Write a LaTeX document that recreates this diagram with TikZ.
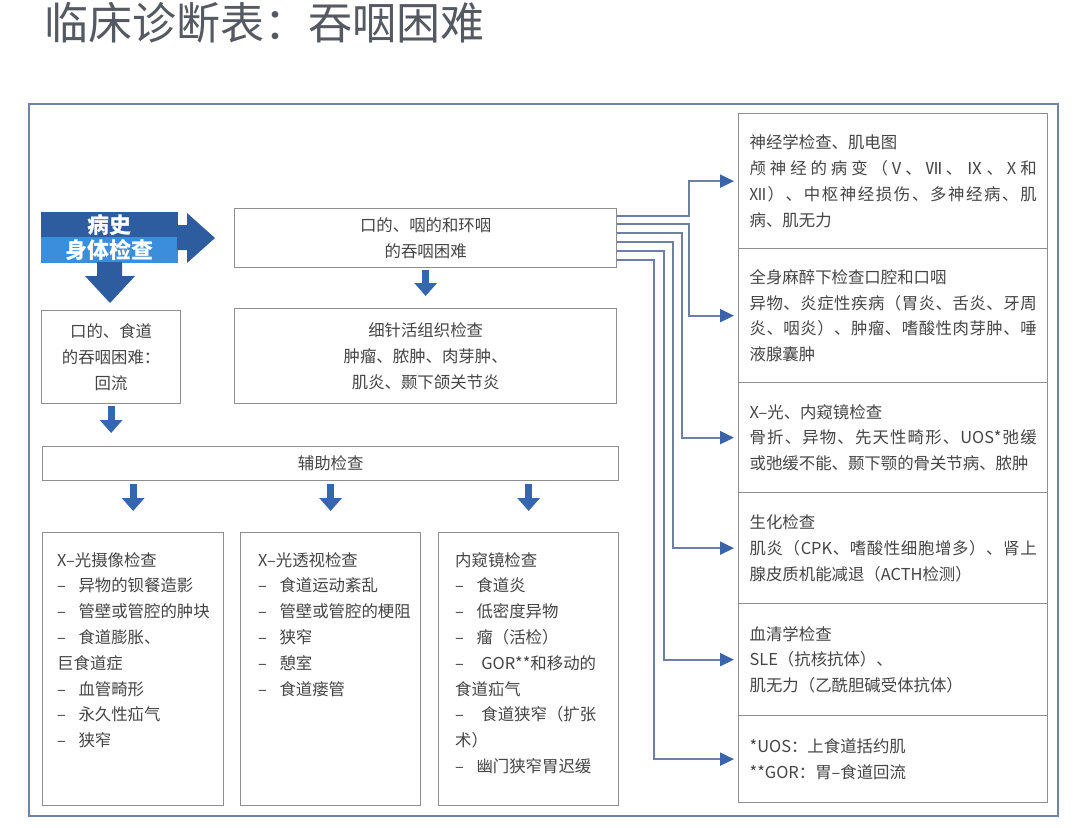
\documentclass[tikz,border=0pt]{standalone}
\usepackage{fontspec}
\setmainfont{Noto Sans CJK SC}
\usetikzlibrary{arrows.meta}
\definecolor{darkblue}{HTML}{2D5C9F}
\definecolor{lightblue}{HTML}{3B8EDB}
\definecolor{arrowblue}{HTML}{3566B0}
\definecolor{connline}{HTML}{6E7EA6}
\definecolor{tipblue}{HTML}{3A63AA}
\definecolor{boxgray}{HTML}{8E8E8E}
\definecolor{framecol}{HTML}{7182A8}
\definecolor{txtgray}{HTML}{454545}
\definecolor{titlegray}{HTML}{555A62}
\def\jstendm{\jstend}
\def\jst#1{\def\jsttmp{#1}\ifx\jsttmp\jstendm\else#1\hfil\expandafter\jst\fi}
\newcommand\jline[1]{\leavevmode\hbox to 287pt{\jst#1\jstend\unskip}}
\newcommand\bul{\makebox[1.3em][l]{–}}
\newcommand\bodyfont{\fontsize{16.4}{25.8}\selectfont}
\begin{document}
\begin{tikzpicture}[x=1pt,y=-1pt,
  box/.style={draw=boxgray, line width=1.3pt, fill=white, rectangle, inner sep=0pt, anchor=north west},
  ctext/.style={box, font=\bodyfont, text=txtgray, align=center},
  ltext/.style={font=\bodyfont, text=txtgray, align=left, inner sep=0pt, anchor=north west},
  rbox/.style={box, font=\bodyfont, text=txtgray, align=left, text width=287pt, inner xsep=10pt, minimum width=309pt},
  block/.style={inner sep=0pt, anchor=north west, minimum width=137pt, text=white, font=\fontsize{22}{24}\selectfont\bfseries},
  sarrow/.style={draw=arrowblue, line width=7pt, -{Triangle[length=13pt,width=22pt]}},
  conn/.style={draw=connline, line width=2pt, -{Triangle[length=14pt,width=13pt,color=tipblue,fill=tipblue]}, shorten >=4pt}
]
\useasboundingbox (0,0) rectangle (1080,828);
\fill[white] (0,0) rectangle (1080,828);

\node[anchor=west, inner sep=0pt, text=titlegray, font=\fontsize{44}{46}\selectfont] (title) at (44,23) {临床诊断表：吞咽困难};

\node[draw=framecol, line width=2pt, anchor=north west, minimum width=1029pt, minimum height=712pt, inner sep=0pt] (frame) at (28,103) {};

% blue blocks
\node[block, fill=darkblue, minimum height=25pt] (hist) at (41,212) {病史};
\node[block, fill=lightblue, minimum height=26pt] (phys) at (41,237) {身体检查};
\fill[darkblue] (177,225) -- (187,225) -- (187,213) -- (215,238) -- (187,263) -- (187,250) -- (177,250) -- cycle;
\fill[darkblue] (97,262) -- (122,262) -- (122,276) -- (135,276) -- (110,303) -- (85,276) -- (97,276) -- cycle;

% main boxes
\node[ctext, minimum width=382pt, minimum height=59pt] (topbox) at (234,208) {口的、咽的和环咽\\的吞咽困难};
\node[ctext, minimum width=139pt, minimum height=93pt] (leftbox) at (41,310) {口的、食道\\的吞咽困难：\\回流};
\node[ctext, minimum width=382pt, minimum height=95pt] (biopsy) at (234,308) {细针活组织检查\\肿瘤、脓肿、肉芽肿、\\肌炎、颞下颌关节炎};
\node[ctext, minimum width=576pt, minimum height=34pt] (aux) at (42,446) {辅助检查};

\node[box, minimum width=181pt, minimum height=273pt] (boxA) at (42,532) {};
\node[box, minimum width=180pt, minimum height=273pt] (boxB) at (240,532) {};
\node[box, minimum width=180pt, minimum height=273pt] (boxC) at (438,532) {};

\node[ltext] (textA) at (57,552) {X–光摄像检查\\\bul 异物的钡餐造影\\\bul 管壁或管腔的肿块\\\bul 食道膨胀、\\巨食道症\\\bul 血管畸形\\\bul 永久性疝气\\\bul 狭窄};
\node[ltext] (textB) at (258,552) {X–光透视检查\\\bul 食道运动紊乱\\\bul 管壁或管腔的梗阻\\\bul 狭窄\\\bul 憩室\\\bul 食道瘘管};
\node[ltext] (textC) at (455,552) {内窥镜检查\\\bul 食道炎\\\bul 低密度异物\\\bul 瘤（活检）\\\bul\hspace{0.3em}GOR**和移动的\\食道疝气\\\bul\hspace{0.3em}食道狭窄（扩张\\术）\\\bul 幽门狭窄胃迟缓};

% right column
\node[rbox, minimum height=135pt] (r1) at (738,113) {神经学检查、肌电图\\\jline{颅神经的病变（V、Ⅶ、Ⅸ、X和}\\\jline{Ⅻ）、中枢神经损伤、多神经病、肌}\\病、肌无力};
\node[rbox, minimum height=134pt] (r2) at (738,248) {全身麻醉下检查口腔和口咽\\\jline{异物、炎症性疾病（胃炎、舌炎、牙周}\\\jline{炎、咽炎）、肿瘤、嗜酸性肉芽肿、唾}\\液腺囊肿};
\node[rbox, minimum height=110pt] (r3) at (738,382) {X–光、内窥镜检查\\\jline{骨折、异物、先天性畸形、{UOS*}弛缓}\\或弛缓不能、颞下颚的骨关节病、脓肿};
\node[rbox, minimum height=111pt] (r4) at (738,492) {生化检查\\\jline{肌炎（{CPK}、嗜酸性细胞增多）、肾上}\\腺皮质机能减退（ACTH检测）};
\node[rbox, minimum height=112pt] (r5) at (738,603) {血清学检查\\SLE（抗核抗体）、\\肌无力（乙酰胆碱受体抗体）};
\node[rbox, minimum height=87pt] (r6) at (738,715) {*UOS：上食道括约肌\\\relax**GOR：胃–食道回流};

% small arrows
\draw[sarrow, shorten <=2pt, shorten >=12pt] (topbox.south) -- (biopsy.north);
\draw[sarrow, shorten <=2pt, shorten >=13pt] (leftbox.south) -- (leftbox.south |- aux.north);
\draw[sarrow, shorten <=3pt, shorten >=21pt] (aux.south -| boxA.north) -- (boxA.north);
\draw[sarrow, shorten <=3pt, shorten >=21pt] (aux.south -| boxB.north) -- (boxB.north);
\draw[sarrow, shorten <=3pt, shorten >=21pt] (aux.south -| boxC.north) -- (boxC.north);

% connectors to right column
\draw[conn] ([yshift=22.5pt]topbox.east) -- ++(72,0) |- (r1.west);
\draw[conn] ([yshift=14.5pt]topbox.east) -- ++(72,0) |- (r2.west);
\draw[conn] ([yshift=5.5pt]topbox.east) -- ++(65,0) |- (r3.west);
\draw[conn] ([yshift=-3.5pt]topbox.east) -- ++(56,0) |- (r4.west);
\draw[conn] ([yshift=-12.5pt]topbox.east) -- ++(47,0) |- (r5.west);
\draw[conn] ([yshift=-21.5pt]topbox.east) -- ++(37,0) |- (r6.west);
\end{tikzpicture}
\end{document}
